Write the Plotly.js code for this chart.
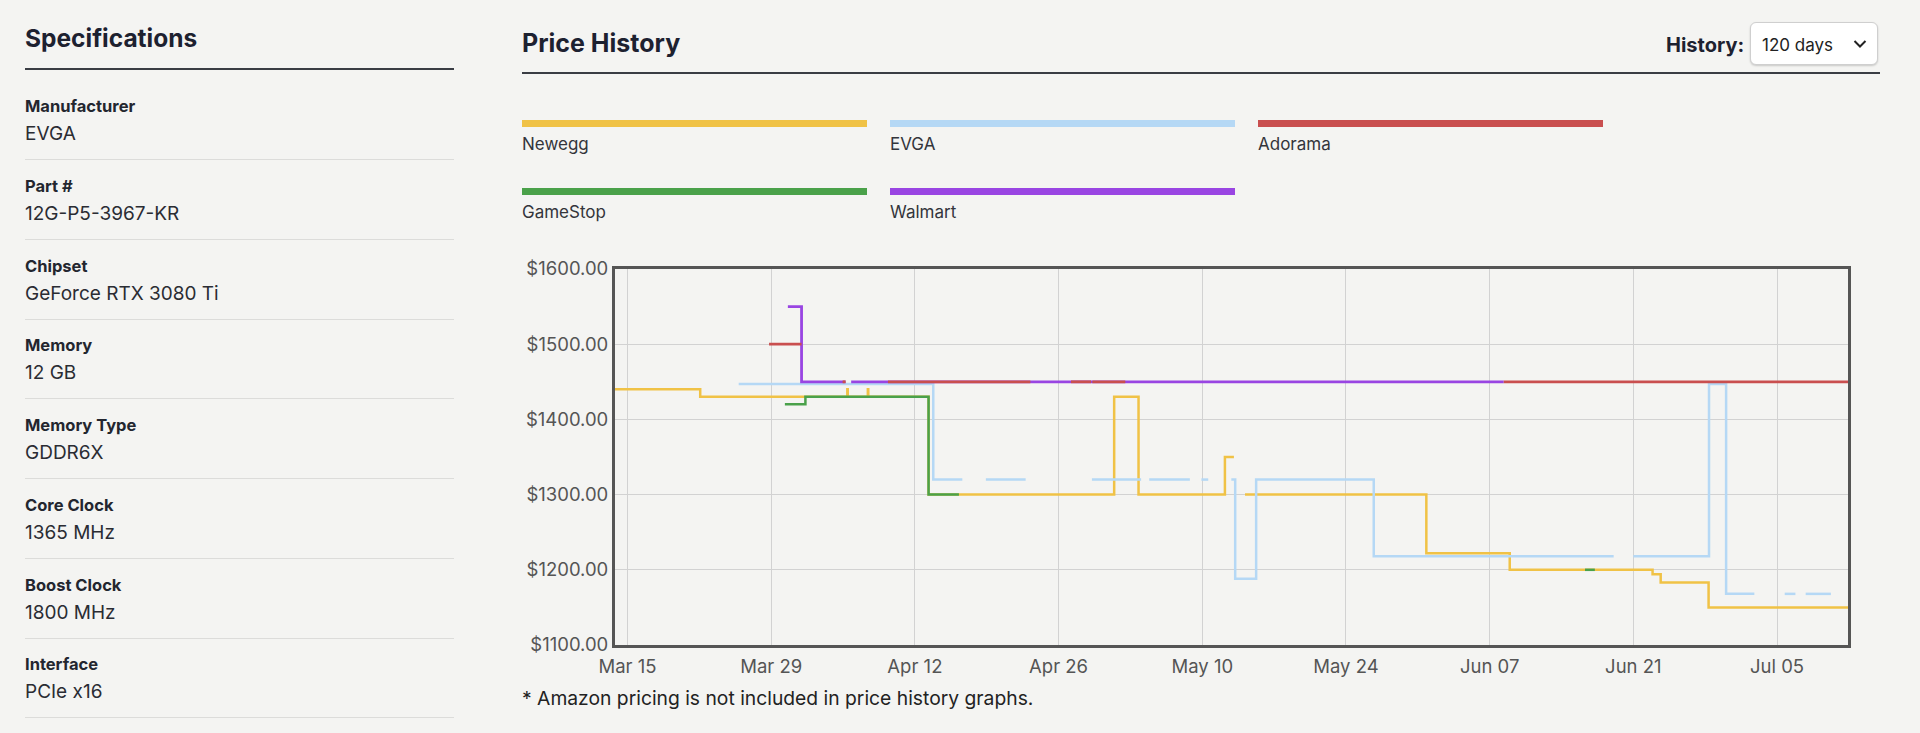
<!DOCTYPE html>
<html>
<head>
<meta charset="utf-8">
<script src="https://cdn.plot.ly/plotly-3.0.1.min.js"></script>
<style>
  html, body { margin:0; padding:0; }
  body { width:1920px; height:733px; overflow:hidden; background:#f4f4f2; font-family: Inter, "Noto Sans", sans-serif; position:relative; }
  #chart { position:absolute; left:0; top:0; width:1920px; height:733px; }
  .abs { position:absolute; white-space:nowrap; }
  .h2 { font-weight:700; color:#1d2130; line-height:30px; }
  .rule { position:absolute; height:2px; background:#3a3d44; }
  .divider { position:absolute; left:25px; width:429px; height:1px; background:#dcdcda; }
  .lbl { font-size:16.5px; font-weight:700; color:#23262f; line-height:20px; }
  .val { font-size:19px; font-weight:400; color:#2a2c33; line-height:24px; }
  .legbar { position:absolute; height:7px; }
  .legtxt { font-size:17px; color:#33353b; line-height:20px; }
  .select { position:absolute; left:1750px; top:22px; width:128px; height:43px; background:#fff; border:1px solid #cfcfcf; border-radius:6px; box-shadow:0 1px 2px rgba(0,0,0,0.18); box-sizing:border-box; }
</style>
</head>
<body>
<div id="chart"></div>
<div id="page"></div>
<script>
// ---- specification table ----
const specLabels = ["Manufacturer","Part #","Chipset","Memory","Memory Type","Core Clock","Boost Clock","Interface"];
const specValues = ["EVGA","12G-P5-3967-KR","GeForce RTX 3080 Ti","12 GB","GDDR6X","1365 MHz","1800 MHz","PCIe x16"];

// ---- series ----
const seriesNames  = ["Newegg","EVGA","Adorama","GameStop","Walmart"];
const seriesColors = ["#f0c246","#b5d8f5","#c94f4f","#4aa14a","#9945e2"];

const neweggDates = ["2022-03-13 00:00","2022-03-22 02:00","2022-04-05 10:00","2022-04-05 11:00","2022-04-07 10:00","2022-04-07 11:00","2022-04-13 08:00","2022-05-01 10:00","2022-05-03 19:00","2022-05-12 05:00","2022-05-13 02:00","2022-05-13 03:00","2022-05-14 04:00","2022-05-31 20:00","2022-06-08 23:00","2022-06-22 21:00","2022-06-23 16:00","2022-06-28 08:00","2022-07-13 00:00"];
const neweggPrices = [1439.99,1429.99,1439.99,1429.99,1439.99,1429.99,1299.99,1429.99,1299.99,1349.99,1349.99,null,1299.99,1221.99,1199.99,1193.99,1182.99,1149.99,1149.99];

const evgaDates = ["2022-03-25 20:00","2022-04-13 19:00","2022-04-16 15:00","2022-04-16 16:00","2022-04-18 22:00","2022-04-22 19:00","2022-04-22 20:00","2022-04-29 06:00","2022-05-04 01:00","2022-05-04 02:00","2022-05-04 20:00","2022-05-08 19:00","2022-05-08 20:00","2022-05-09 22:00","2022-05-10 14:00","2022-05-10 15:00","2022-05-12 20:00","2022-05-13 05:00","2022-05-15 06:00","2022-05-26 17:00","2022-06-19 02:00","2022-06-19 03:00","2022-06-21 00:00","2022-06-28 09:00","2022-06-30 01:00","2022-07-02 19:00","2022-07-02 20:00","2022-07-05 18:00","2022-07-06 19:00","2022-07-06 20:00","2022-07-07 19:00","2022-07-10 06:00"];
const evgaPrices = [1446.99,1319.99,1319.99,null,1319.99,1319.99,null,1319.99,1319.99,null,1319.99,1319.99,null,1319.99,1319.99,null,1319.99,1187.99,1319.99,1217.99,1217.99,null,1217.99,1446.99,1167.99,1167.99,null,1167.99,1167.99,null,1167.99,1167.99];

const adoramaDates = ["2022-03-28 19:00","2022-03-31 23:00","2022-04-01 00:00","2022-04-04 23:00","2022-04-05 06:00","2022-04-05 07:00","2022-04-09 09:00","2022-04-23 06:00","2022-04-23 07:00","2022-04-27 05:00","2022-04-29 04:00","2022-04-29 05:00","2022-04-29 07:00","2022-05-02 12:00","2022-05-02 13:00","2022-06-08 09:00","2022-07-13 00:00"];
const adoramaPrices = [1499.99,1499.99,null,1449.99,1449.99,null,1449.99,1449.99,null,1449.99,1449.99,null,1449.99,1449.99,null,1449.99,1449.99];

const gamestopDates = ["2022-03-30 08:00","2022-04-01 08:00","2022-04-13 08:00","2022-04-16 07:00","2022-04-16 08:00","2022-06-16 07:00","2022-06-17 06:00"];
const gamestopPrices = [1419.99,1429.99,1299.99,1299.99,null,1199.99,1199.99];

const walmartDates = ["2022-03-30 15:00","2022-03-31 23:00","2022-04-05 06:00","2022-04-05 07:00","2022-04-05 19:00","2022-06-08 09:00"];
const walmartPrices = [1549.99,1449.99,1449.99,null,1449.99,1449.99];

// ---- axes ----
const xTickDates  = ["2022-03-15","2022-03-29","2022-04-12","2022-04-26","2022-05-10","2022-05-24","2022-06-07","2022-06-21","2022-07-05"];
const xTickLabels = ["Mar 15","Mar 29","Apr 12","Apr 26","May 10","May 24","Jun 07","Jun 21","Jul 05"];
const yTickValues = [1100,1200,1300,1400,1500,1600];
const yTickLabels = ["$1100.00","$1200.00","$1300.00","$1400.00","$1500.00","$1600.00"];
const xRange = ["2022-03-13 18:45","2022-07-11 22:00"];
const yRange = [1100,1600];

const footnote = "* Amazon pricing is not included in price history graphs.";

// ---- page text ----
const page = document.getElementById('page');
function add(html){ page.insertAdjacentHTML('beforeend', html); }

add('<div class="abs h2" style="left:25px;top:23px;font-size:24.5px;">Specifications</div>');
add('<div class="rule" style="left:25px;top:68px;width:429px;"></div>');
const pitch = 79.75;
specLabels.forEach((l,i)=>{
  const top = 80 + i*pitch;
  add('<div class="abs lbl" style="left:25px;top:'+(top+16)+'px;">'+l+'</div>');
  add('<div class="abs val" style="left:25px;top:'+(top+42)+'px;">'+specValues[i]+'</div>');
  add('<div class="divider" style="top:'+Math.round(top+79)+'px;"></div>');
});

add('<div class="abs h2" style="left:522px;top:28px;font-size:25px;">Price History</div>');
add('<div class="rule" style="left:522px;top:72px;width:1358px;"></div>');
add('<div class="abs" style="left:1666px;top:32px;font-size:20px;font-weight:700;color:#1d2130;line-height:26px;">History:</div>');
add('<div class="select"></div>');
add('<div class="abs" style="left:1762px;top:33px;font-size:17px;color:#222;line-height:24px;">120 days</div>');
add('<svg class="abs" style="left:1853px;top:39px;" width="14" height="10"><polyline points="1.5,2 7,7.5 12.5,2" fill="none" stroke="#222" stroke-width="2"/></svg>');

const legendX = [522, 890, 1258, 522, 890];
const legendY = [120, 120, 120, 188, 188];
seriesNames.forEach((n,i)=>{
  add('<div class="legbar" style="left:'+legendX[i]+'px;top:'+legendY[i]+'px;width:345px;background:'+seriesColors[i]+';"></div>');
  add('<div class="abs legtxt" style="left:'+legendX[i]+'px;top:'+(legendY[i]+14)+'px;">'+n+'</div>');
});
add('<div class="abs" style="left:522px;top:686px;font-size:19.3px;color:#222;line-height:24px;">'+footnote+'</div>');

// ---- chart ----
const seriesData = {
  "Newegg":[neweggDates,neweggPrices],
  "EVGA":[evgaDates,evgaPrices],
  "Adorama":[adoramaDates,adoramaPrices],
  "GameStop":[gamestopDates,gamestopPrices],
  "Walmart":[walmartDates,walmartPrices]
};
// draw order (bottom -> top)
const drawOrder = ["Newegg","EVGA","Walmart","Adorama","GameStop"];
const traces = drawOrder.map(n=>{
  const i = seriesNames.indexOf(n);
  return {
    type:'scatter', mode:'lines', name:n,
    x: seriesData[n][0], y: seriesData[n][1],
    line:{shape:'hv', color:seriesColors[i], width:(n==="Walmart"||n==="Adorama")?2.8:2.5},
    connectgaps:false, hoverinfo:'skip'
  };
});

const layout = {
  width:1920, height:733, autosize:false,
  margin:{l:615, r:72, t:269, b:88},
  paper_bgcolor:'rgba(0,0,0,0)', plot_bgcolor:'rgba(0,0,0,0)',
  showlegend:false,
  font:{family:'Inter, "Noto Sans", sans-serif', size:18.5, color:'#555'},
  xaxis:{
    type:'date', range:xRange, tickmode:'array', tickvals:xTickDates, ticktext:xTickLabels,
    showgrid:true, gridcolor:'#d2d2d2', gridwidth:1,
    showline:true, linecolor:'#555', linewidth:3, mirror:true,
    zeroline:false, ticks:'', ticklabelstandoff:3,
    tickfont:{size:18.5, color:'#555'}
  },
  yaxis:{
    range:yRange, tickmode:'array', tickvals:yTickValues, ticktext:yTickLabels,
    showgrid:true, gridcolor:'#d2d2d2', gridwidth:1,
    showline:true, linecolor:'#555', linewidth:3, mirror:true,
    zeroline:false, ticks:'', ticklabelstandoff:0,
    tickfont:{size:18.5, color:'#555'}
  }
};
Plotly.newPlot('chart', traces, layout, {staticPlot:true, displayModeBar:false});
</script>
</body>
</html>
